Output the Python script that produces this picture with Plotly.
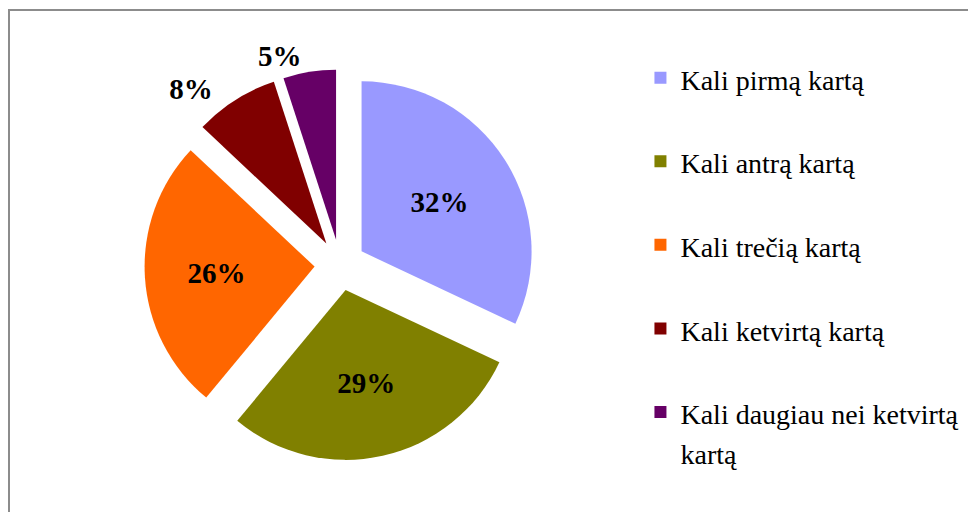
import plotly.graph_objects as go

# data
labels = ["Kali pirmą kartą", "Kali antrą kartą", "Kali trečią kartą",
          "Kali ketvirtą kartą", "Kali daugiau nei ketvirtą<br>kartą"]
values = [32, 29, 26, 8, 5]
colors = ["#9999FF", "#808000", "#FF6600", "#800000", "#660066"]

# legend entries padded to two lines so the rows are spread out like the original
legend_labels = ["<span style='font-size:28px'>" + (l if "<br>" in l else l + "<br> ") + "</span>"
                 for l in labels]

# two trailing no-break spaces push the 8% label a bit further left
templates = ["%{percent:.0%}"] * 3 + ["%{percent:.0%}\u00a0\u00a0", "%{percent:.0%}"]

# page body has an 8px margin, so positions below are shifted by that
fig = go.Figure(go.Pie(
    labels=legend_labels,
    values=values,
    sort=False,
    direction="clockwise",
    rotation=0,
    pull=0.15,
    marker=dict(colors=colors, line=dict(width=0)),
    texttemplate=templates,
    textposition=["inside", "inside", "inside", "outside", "outside"],
    insidetextorientation="horizontal",
    textfont=dict(family="Liberation Serif", size=29, color="black", weight="bold"),
    outsidetextfont=dict(family="Liberation Serif", size=29, color="black", weight="bold"),
    domain=dict(x=[0.1399, 0.5405], y=[0.1162, 0.8799]),
    hoverinfo="label+percent",
))

fig.update_layout(
    width=976, height=512,
    margin=dict(l=0, r=0, t=0, b=0, autoexpand=False),
    paper_bgcolor="white",
    font=dict(family="Liberation Serif", color="black"),
    showlegend=True,
    legend=dict(
        x=0.648, y=0.916, xanchor="left", yanchor="top",
        font=dict(family="Liberation Serif", size=31, color="black"),
        valign="top",
        bgcolor="rgba(0,0,0,0)",
    ),
    shapes=[dict(type="rect", xref="paper", yref="paper",
                 x0=1 / 976, x1=1.2, y0=-0.2, y1=1 - 2 / 512,
                 line=dict(color="#8c8c8c", width=2))],
)

fig.write_html("out.html")
